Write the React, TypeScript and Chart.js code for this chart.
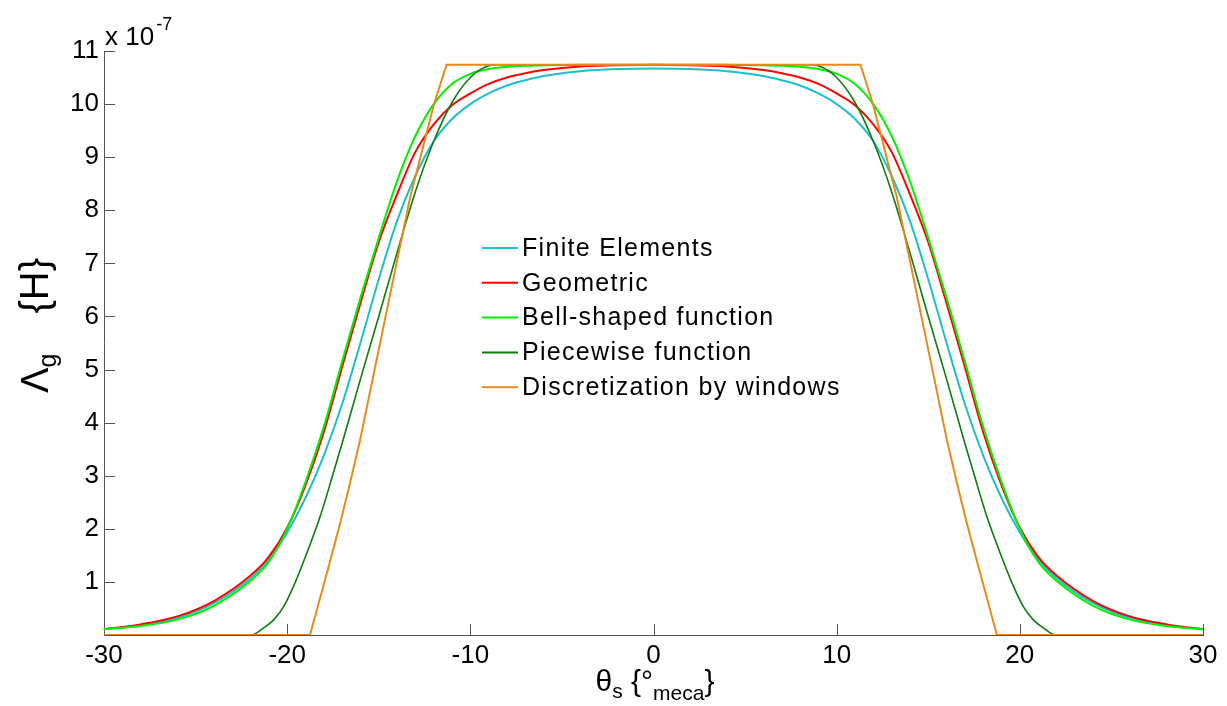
import React, { useEffect, useRef } from 'react';
import { Chart, registerables } from 'chart.js';

Chart.register(...registerables);

// ---- data (values in units of 1e-7 H) ----
const thetaSmooth = [-30, -28, -26, -24, -22, -21, -20, -19, -18, -17, -16, -15, -14, -13, -12, -11, -10, -9, -8, -7, -6, -4, -2, 0, 2, 4, 6, 7, 8, 9, 10, 11, 12, 13, 14, 15, 16, 17, 18, 19, 20, 21, 22, 24, 26, 28, 30];

const finiteElements = [0.11, 0.18, 0.32, 0.6, 1.07, 1.42, 1.93, 2.58, 3.38, 4.35, 5.5, 6.7, 7.8, 8.65, 9.3, 9.72, 10.0, 10.2, 10.35, 10.45, 10.53, 10.62, 10.66, 10.67, 10.66, 10.62, 10.53, 10.45, 10.35, 10.2, 10.0, 9.72, 9.3, 8.65, 7.8, 6.7, 5.5, 4.35, 3.38, 2.58, 1.93, 1.42, 1.07, 0.6, 0.32, 0.18, 0.11];

const geometric = [0.11, 0.2, 0.35, 0.64, 1.12, 1.47, 2.02, 2.82, 3.82, 5.05, 6.25, 7.4, 8.3, 9.1, 9.62, 9.98, 10.2, 10.38, 10.5, 10.58, 10.64, 10.71, 10.73, 10.74, 10.73, 10.71, 10.64, 10.58, 10.5, 10.38, 10.2, 9.98, 9.62, 9.1, 8.3, 7.4, 6.25, 5.05, 3.82, 2.82, 2.02, 1.47, 1.12, 0.64, 0.35, 0.2, 0.11];

const bellShaped = [0.11, 0.17, 0.29, 0.55, 1.02, 1.38, 2.0, 2.88, 3.92, 5.15, 6.35, 7.48, 8.55, 9.4, 10.0, 10.38, 10.57, 10.66, 10.7, 10.72, 10.73, 10.74, 10.74, 10.74, 10.74, 10.74, 10.73, 10.72, 10.7, 10.66, 10.57, 10.38, 10.0, 9.4, 8.55, 7.48, 6.35, 5.15, 3.92, 2.88, 2.0, 1.38, 1.02, 0.55, 0.29, 0.17, 0.11];

const thetaPiecewise = [-30, -21.93, -21.3, -20.75, -20.2, -19.66, -18.93, -18.2, -17.48, -16.95, -16, -15, -14, -13, -12, -11, -10, -9, -8.5, 0, 8.5, 9, 10, 11, 12, 13, 14, 15, 16, 16.95, 17.48, 18.2, 18.93, 19.66, 20.2, 20.75, 21.3, 21.93, 30];
const piecewise = [0, 0, 0.13, 0.28, 0.53, 0.91, 1.54, 2.23, 3.05, 3.67, 4.82, 6.0, 7.2, 8.35, 9.3, 10.03, 10.5, 10.72, 10.74, 10.74, 10.74, 10.72, 10.5, 10.03, 9.3, 8.35, 7.2, 6.0, 4.82, 3.67, 3.05, 2.23, 1.54, 0.91, 0.53, 0.28, 0.13, 0, 0];

const thetaWindows = [-30, -18.75, -17.84, -17.11, -16.57, -16.02, -13.88, -13.28, -12.5, -12.0, -11.3, 11.3, 12.0, 12.5, 13.28, 13.88, 16.02, 16.57, 17.11, 17.84, 18.75, 30];
const windows = [0, 0, 1.16, 2.1, 2.86, 3.67, 7.25, 8.25, 9.3, 9.98, 10.74, 10.74, 9.98, 9.3, 8.25, 7.25, 3.67, 2.86, 2.1, 1.16, 0, 0];

const yTicks = [1, 2, 3, 4, 5, 6, 7, 8, 9, 10, 11];
const xTicks = [-30, -20, -10, 0, 10, 20, 30];

const seriesLabels = ['Finite Elements', 'Geometric', 'Bell-shaped function', 'Piecewise function', 'Discretization by windows'];
const seriesColors = ['#1cbfcc', '#ff0000', '#00f000', '#0a7d0a', '#e8891c'];

const FONT = '"Liberation Sans", Arial, sans-serif';

function pts(xs: number[], ys: number[]) {
  return xs.map((x, i) => ({ x, y: ys[i] }));
}

const decorPlugin = {
  id: 'decor',
  beforeDatasetsDraw(chart: any) {
    const { ctx, chartArea: ca, scales } = chart;
    const xs = scales.x;
    const ys = scales.y;
    ctx.save();
    ctx.strokeStyle = '#555';
    ctx.lineWidth = 1;
    yTicks.forEach((v) => {
      const y = Math.round(ys.getPixelForValue(v)) + 0.5;
      ctx.beginPath();
      ctx.moveTo(ca.left, y);
      ctx.lineTo(ca.left + 11, y);
      ctx.stroke();
    });
    xTicks.forEach((v) => {
      if (v === -30) return;
      const x = Math.round(xs.getPixelForValue(v)) + 0.5;
      ctx.beginPath();
      ctx.moveTo(x, ca.bottom);
      ctx.lineTo(x, ca.bottom - 11);
      ctx.stroke();
    });
    ctx.restore();
  },
  afterDraw(chart: any) {
    const { ctx } = chart;
    ctx.save();
    ctx.fillStyle = '#000';
    ctx.textBaseline = 'alphabetic';
    ctx.textAlign = 'left';

    // multiplier
    ctx.font = `26px ${FONT}`;
    ctx.fillText('x 10', 105, 45);
    const w10 = ctx.measureText('x 10').width;
    ctx.font = `18px ${FONT}`;
    ctx.fillText('-7', 105 + w10 + 2, 30);

    // y axis title
    ctx.save();
    ctx.translate(48, 393);
    ctx.rotate(-Math.PI / 2);
    let cx = 0;
    ctx.font = `38px ${FONT}`;
    ctx.fillText('Λ', cx, 0);
    cx += ctx.measureText('Λ').width;
    ctx.font = `25px ${FONT}`;
    ctx.fillText('g', cx, 8);
    ctx.font = `40px ${FONT}`;
    ctx.textAlign = 'right';
    ctx.fillText('{H}', 135, 0);
    ctx.restore();

    // x axis title
    const parts: [string, number, number][] = [
      ['θ', 30, 0],
      ['s', 21, 7],
      [' {°', 30, 0],
      ['meca', 21, 9],
      ['}', 30, 0],
    ];
    let total = 0;
    parts.forEach(([t, s]) => {
      ctx.font = `${s}px ${FONT}`;
      total += ctx.measureText(t).width;
    });
    let px = 655 - total / 2;
    const base = 691;
    parts.forEach(([t, s, dy]) => {
      ctx.font = `${s}px ${FONT}`;
      ctx.fillText(t, px, base + dy);
      px += ctx.measureText(t).width;
    });

    // legend
    ctx.font = `25px ${FONT}`;
    (ctx as any).letterSpacing = '1.3px';
    ctx.textBaseline = 'middle';
    seriesLabels.forEach((label, i) => {
      const y = 248 + i * 34.8;
      ctx.strokeStyle = seriesColors[i];
      ctx.lineWidth = 2;
      ctx.beginPath();
      ctx.moveTo(482, y);
      ctx.lineTo(518, y);
      ctx.stroke();
      ctx.fillStyle = '#000';
      ctx.fillText(label, 522, y + 1);
    });
    ctx.restore();
  },
};

export default function App() {
  const ref = useRef<HTMLCanvasElement | null>(null);

  useEffect(() => {
    if (!ref.current) return;
    const mk = (i: number, data: { x: number; y: number }[], order: number, extra: any = {}) => ({
      label: seriesLabels[i],
      data,
      borderColor: seriesColors[i],
      backgroundColor: seriesColors[i],
      borderWidth: 2,
      pointRadius: 0,
      fill: false,
      cubicInterpolationMode: 'monotone',
      order,
      ...extra,
    });
    const chart = new Chart(ref.current, {
      type: 'line',
      data: {
        datasets: [
          mk(0, pts(thetaSmooth, finiteElements), 5),
          mk(1, pts(thetaSmooth, geometric), 4),
          mk(2, pts(thetaSmooth, bellShaped), 3),
          mk(3, pts(thetaPiecewise, piecewise), 2, { borderWidth: 1.6 }),
          mk(4, pts(thetaWindows, windows), 1, { cubicInterpolationMode: 'default', tension: 0 }),
        ] as any,
      },
      options: {
        responsive: false,
        animation: false,
        devicePixelRatio: 1,
        layout: { padding: { left: 0, top: 51, right: 24, bottom: 0 } },
        plugins: {
          legend: { display: false },
          tooltip: { enabled: false },
          title: { display: false },
        },
        scales: {
          x: {
            type: 'linear',
            min: -30,
            max: 30,
            afterBuildTicks: (scale: any) => {
              scale.ticks = xTicks.map((v) => ({ value: v }));
            },
            afterFit: (scale: any) => {
              scale.height = 71;
            },
            grid: { display: false, drawOnChartArea: false, drawTicks: false },
            border: { display: true, color: '#555', width: 1 },
            ticks: {
              color: '#000',
              padding: 5,
              maxRotation: 0,
              font: { family: FONT, size: 26 },
            },
          },
          y: {
            type: 'linear',
            min: 0,
            max: 11,
            afterBuildTicks: (scale: any) => {
              scale.ticks = yTicks.map((v) => ({ value: v }));
            },
            afterFit: (scale: any) => {
              scale.width = 104;
            },
            grid: { display: false, drawOnChartArea: false, drawTicks: false },
            border: { display: true, color: '#555', width: 1 },
            ticks: {
              color: '#000',
              padding: 5,
              font: { family: FONT, size: 26 },
            },
          },
        },
      } as any,
      plugins: [decorPlugin],
    });
    return () => chart.destroy();
  }, []);

  return (
    <div style={{ position: 'fixed', left: 0, top: 0, width: 1227, height: 706, background: '#fff' }}>
      <canvas ref={ref} width={1227} height={706} style={{ width: 1227, height: 706, display: 'block' }} />
    </div>
  );
}
